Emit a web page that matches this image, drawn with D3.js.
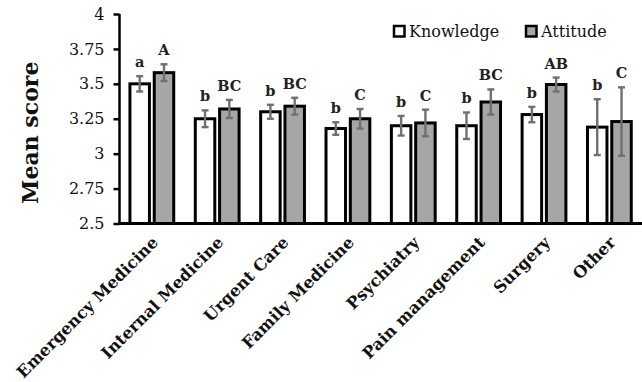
<!DOCTYPE html>
<html>
<head>
<meta charset="utf-8">
<script src="https://cdn.jsdelivr.net/npm/d3@7"></script>
<style>
  body { margin: 0; background: #fff; }
  svg { display: block; }
</style>
</head>
<body>
<svg id="chart" width="642" height="382"></svg>
<script>
const categories = ["Emergency Medicine", "Internal Medicine", "Urgent Care", "Family Medicine", "Psychiatry", "Pain management", "Surgery", "Other"];
const knowledge = [3.50, 3.25, 3.30, 3.18, 3.20, 3.20, 3.28, 3.19];
const knowledgeErr = [0.055, 0.06, 0.05, 0.045, 0.07, 0.095, 0.055, 0.20];
const attitude = [3.58, 3.32, 3.34, 3.25, 3.22, 3.37, 3.495, 3.23];
const attitudeErr = [0.06, 0.065, 0.06, 0.07, 0.095, 0.09, 0.05, 0.245];
const knowledgeLetters = ["a", "b", "b", "b", "b", "b", "b", "b"];
const attitudeLetters = ["A", "BC", "BC", "C", "C", "BC", "AB", "C"];
const yTicks = [2.5, 2.75, 3, 3.25, 3.5, 3.75, 4];
const seriesNames = ["Knowledge", "Attitude"];

const svg = d3.select("#chart");
const x = d3.scaleBand().domain(categories).range([119.3, 642.2]).padding(0);
const y = d3.scaleLinear().domain([2.5, 4]).range([223.5, 14]);

const fills = ["#ffffff", "#a6a6a6"];
const series = [
  { name: seriesNames[0], vals: knowledge, errs: knowledgeErr, letters: knowledgeLetters, off: -12.3, fill: fills[0] },
  { name: seriesNames[1], vals: attitude, errs: attitudeErr, letters: attitudeLetters, off: 12.0, fill: fills[1] }
];
const barW = 19.5;
const cx = (c, s) => x(c) + x.bandwidth() / 2 + s.off;

// Bars
series.forEach(s => {
  svg.append("g").selectAll("rect").data(categories).join("rect")
    .attr("x", c => cx(c, s) - barW / 2)
    .attr("y", (c, i) => y(s.vals[i]))
    .attr("width", barW)
    .attr("height", (c, i) => y(2.5) - y(s.vals[i]))
    .attr("fill", s.fill)
    .attr("stroke", "#000")
    .attr("stroke-width", 3);
});

// Error bars
series.forEach(s => {
  const g = svg.append("g").attr("stroke", "#707070").attr("stroke-width", 2.4);
  categories.forEach((c, i) => {
    const xc = cx(c, s);
    const top = y(s.vals[i] + s.errs[i]);
    const bot = y(s.vals[i] - s.errs[i]);
    g.append("line").attr("x1", xc).attr("x2", xc).attr("y1", top).attr("y2", bot);
    g.append("line").attr("x1", xc - 3.5).attr("x2", xc + 3.5).attr("y1", top).attr("y2", top);
    g.append("line").attr("x1", xc - 3.5).attr("x2", xc + 3.5).attr("y1", bot).attr("y2", bot);
  });
});

// Significance letters
series.forEach(s => {
  svg.append("g").selectAll("text").data(categories).join("text")
    .attr("x", c => cx(c, s))
    .attr("y", (c, i) => y(s.vals[i] + s.errs[i]) - 9)
    .attr("text-anchor", "middle")
    .attr("font-family", "DejaVu Serif")
    .attr("font-weight", "bold")
    .attr("font-size", 14.5)
    .attr("fill", "#222")
    .text((c, i) => s.letters[i]);
});

// Y axis
const yAxis = svg.append("g").attr("transform", "translate(119.5,0)")
  .call(d3.axisLeft(y).tickValues(yTicks).tickSize(6).tickPadding(9).tickFormat(d => d3.format("")(d)));
yAxis.select(".domain").attr("stroke", "#000").attr("stroke-width", 2.5).attr("d", `M0,${y(4)}V${y(2.5)}`);
yAxis.selectAll(".tick line").attr("stroke", "#000").attr("stroke-width", 2.5);
yAxis.selectAll(".tick text").attr("font-family", "DejaVu Serif").attr("font-size", 16).attr("fill", "#111");

// X axis
const xAxis = svg.append("g").attr("transform", `translate(0,${y(2.5)})`)
  .call(d3.axisBottom(x).tickSize(0).tickPadding(0));
xAxis.select(".domain").attr("stroke", "#000").attr("stroke-width", 3).attr("d", "M118,0H642");
xAxis.selectAll(".tick text")
  .attr("font-family", "DejaVu Serif")
  .attr("font-weight", "bold")
  .attr("font-size", 16.3)
  .attr("fill", "#111")
  .attr("text-anchor", "end")
  .attr("dy", 0)
  .attr("transform", "translate(7,20) rotate(-45)");

// Y title
svg.append("text")
  .attr("transform", `translate(38,${(y(4) + y(2.5)) / 2 + 14}) rotate(-90)`)
  .attr("text-anchor", "middle")
  .attr("font-family", "DejaVu Serif")
  .attr("font-weight", "bold")
  .attr("font-size", 22)
  .attr("fill", "#111")
  .text("Mean score");

// Legend
const legendX = [393, 525];
series.forEach((s, i) => {
  const g = svg.append("g").attr("transform", `translate(${legendX[i]},25)`);
  g.append("rect").attr("x", 1).attr("y", 1).attr("width", 10.5).attr("height", 10.5)
    .attr("fill", s.fill).attr("stroke", "#000").attr("stroke-width", 2.5);
  g.append("text").attr("x", 16).attr("y", 12).attr("font-family", "DejaVu Serif")
    .attr("font-size", 16).attr("fill", "#111").text(s.name);
});
</script>
</body>
</html>
